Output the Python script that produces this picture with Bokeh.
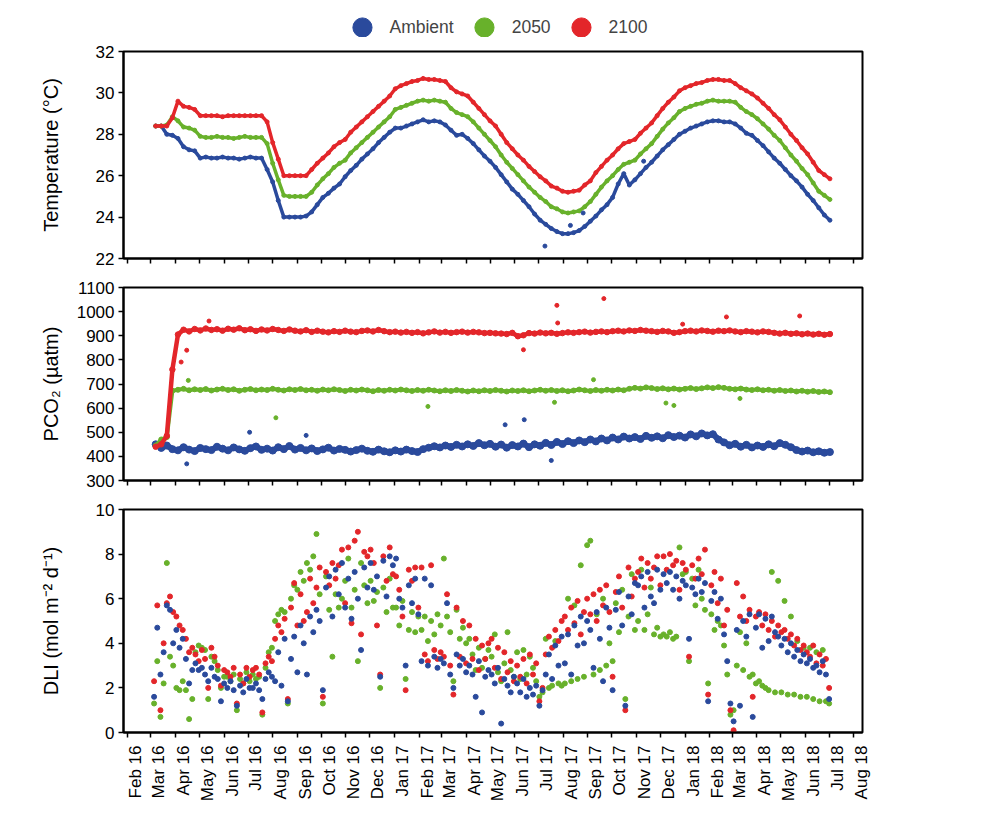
import math
import pandas as pd
from bokeh.plotting import figure
from bokeh.layouts import column
from bokeh.models import (Range1d, FixedTicker, DatetimeAxis, DatetimeTickFormatter,
                          CustomJSTickFormatter, Legend, LegendItem)
from bokeh.embed import file_html
from bokeh.resources import INLINE

BLUE = "#2a4a9c"
GREEN = "#68b12b"
RED = "#e3262a"
FONT = "Liberation Sans"

treatments = ["Ambient", "2050", "2100"]

# temperature, one reading a week from 7 Mar 2016
temp_start = "2016-03-07"
temp_ambient = [
    28.4, 28.4, 28.0, 27.95, 27.8, 27.4, 27.25, 27.2, 26.85, 26.9,
    26.85, 26.85, 26.9, 26.85, 26.85, 26.8, 26.85, 26.9, 26.85, 26.85,
    26.3, 25.7, 24.8, 24.0, 24.0, 24.0, 24.0, 24.05, 24.25, 24.6,
    24.95, 25.15, 25.4, 25.6, 25.95, 26.25, 26.5, 26.8, 27.05, 27.3,
    27.6, 27.85, 28.1, 28.3, 28.3, 28.4, 28.5, 28.6, 28.7, 28.6,
    28.65, 28.6, 28.45, 28.2, 27.95, 28.0, 27.8, 27.55, 27.25, 26.95,
    26.7, 26.4, 26.05, 25.7, 25.35, 25.1, 24.8, 24.5, 24.15, 23.85,
    23.65, 23.45, 23.3, 23.2, 23.2, 23.25, 23.35, 23.55, 23.8, 24.05,
    24.35, 24.6, 24.95, 25.6, 26.1, 25.55, 25.8, 26.1, 26.4, 26.65,
    26.95, 27.25, 27.5, 27.75, 28.0, 28.15, 28.3, 28.4, 28.5, 28.6,
    28.65, 28.65, 28.6, 28.6, 28.5, 28.3, 28.05, 27.95, 27.7, 27.45,
    27.15, 26.85, 26.6, 26.3, 26.0, 25.75, 25.45, 25.1, 24.8, 24.45,
    24.1, 23.85,
]
temp_2050 = [
    28.4, 28.4, 28.45, 28.85, 28.65, 28.35, 28.3, 28.2, 27.9, 27.85,
    27.85, 27.9, 27.85, 27.85, 27.8, 27.85, 27.9, 27.85, 27.85, 27.85,
    27.55, 26.6, 25.8, 25.05, 25.0, 25.0, 25.0, 25.0, 25.2, 25.55,
    25.85, 26.1, 26.4, 26.6, 26.75, 27.1, 27.35, 27.6, 27.85, 28.1,
    28.35, 28.6, 28.85, 29.2, 29.3, 29.4, 29.5, 29.6, 29.65, 29.6,
    29.65, 29.6, 29.55, 29.25, 29.05, 28.95, 28.85, 28.6, 28.3, 28.0,
    27.7, 27.4, 27.0, 26.65, 26.35, 26.05, 25.75, 25.45, 25.2, 24.95,
    24.75, 24.5, 24.4, 24.25, 24.2, 24.25, 24.3, 24.5, 24.75, 25.1,
    25.45, 25.75, 26.0, 26.3, 26.55, 26.65, 26.75, 27.05, 27.3, 27.55,
    27.9, 28.25, 28.55, 28.8, 29.1, 29.25, 29.35, 29.45, 29.5, 29.6,
    29.65, 29.6, 29.6, 29.6, 29.55, 29.3, 29.1, 28.95, 28.75, 28.5,
    28.25, 27.95, 27.7, 27.35, 27.0, 26.7, 26.35, 26.05, 25.65, 25.25,
    25.05, 24.85,
]
temp_2100 = [
    28.4, 28.4, 28.4, 28.8, 29.6, 29.35, 29.3, 29.2, 28.9, 28.9,
    28.9, 28.9, 28.85, 28.9, 28.9, 28.9, 28.9, 28.9, 28.9, 28.9,
    28.6, 27.6, 26.8, 26.0, 26.0, 26.0, 26.0, 26.0, 26.3, 26.6,
    26.85, 27.1, 27.4, 27.6, 27.75, 28.1, 28.35, 28.6, 28.85, 29.1,
    29.35, 29.6, 29.85, 30.2, 30.35, 30.45, 30.55, 30.6, 30.7, 30.65,
    30.65, 30.6, 30.55, 30.25, 30.05, 29.95, 29.85, 29.55, 29.25, 28.95,
    28.65, 28.4, 28.0, 27.6, 27.3, 27.0, 26.75, 26.45, 26.2, 25.95,
    25.75, 25.5, 25.4, 25.25, 25.2, 25.25, 25.3, 25.55, 25.75, 26.15,
    26.45, 26.75, 27.0, 27.3, 27.55, 27.65, 27.75, 28.05, 28.3, 28.55,
    28.9, 29.25, 29.55, 29.8, 30.1, 30.25, 30.35, 30.45, 30.5, 30.6,
    30.65, 30.65, 30.6, 30.6, 30.45, 30.25, 30.1, 29.95, 29.75, 29.5,
    29.25, 28.95, 28.7, 28.35, 28.0, 27.7, 27.35, 27.05, 26.65, 26.25,
    26.05, 25.85,
]
temp_odd_dates = ["2017-07-09", "2017-08-10", "2017-08-26", "2017-11-10"]
temp_odd_ambient = [22.6, 23.6, 24.2, 26.7]

# pCO2, weekly from 7 Mar 2016
pco2_start = "2016-03-07"
pco2_ambient = [
    450, 435, 445, 430, 425, 438, 428, 422, 435, 430,
    426, 440, 432, 425, 437, 429, 423, 434, 441, 427,
    432, 424, 438, 430, 443, 428, 435, 425, 433, 422,
    429, 436, 424, 431, 427, 420, 426, 432, 423, 419,
    428, 421, 417, 425, 420, 428, 422, 418, 430, 436,
    442, 437, 445, 439, 448, 441, 450, 443, 455, 446,
    452, 440, 449, 436, 447, 441, 453, 438, 450, 444,
    456, 447, 460, 451, 463, 455, 466, 459, 470, 462,
    474, 466, 478, 470, 482, 474, 480, 472, 485, 477,
    483, 475, 488, 480, 486, 478, 491, 483, 495, 487,
    492, 470, 458, 446, 452, 440, 448, 437, 445, 439,
    450, 442, 455, 448, 438, 426, 420, 424, 417, 421,
    415, 418,
]
pco2_2050 = [
    445, 470, 480, 672, 676, 680, 674, 678, 675, 679,
    673, 677, 680, 675, 678, 672, 676, 679, 674, 677,
    675, 680, 676, 673, 678, 675, 679, 674, 676, 672,
    677, 674, 678, 675, 671, 676, 673, 677, 674, 670,
    675, 672, 676, 673, 677, 674, 671, 675, 672, 676,
    673, 670, 674, 671, 675, 672, 669, 673, 670, 674,
    671, 675, 672, 669, 673, 671, 674, 670, 673, 676,
    672, 675, 671, 674, 670, 673, 677, 674, 671, 675,
    672, 676, 673, 677, 674, 680, 684, 681, 686, 683,
    679, 682, 678, 681, 677, 680, 683, 679, 682, 686,
    683, 687, 684, 680, 678, 681, 677, 675, 678, 674,
    676, 672, 675, 671, 673, 669, 672, 668, 671, 667,
    669, 666,
]
pco2_2100 = [
    440, 450, 485, 760, 905, 925, 918, 928, 922, 930,
    924, 927, 921, 929, 925, 931, 923, 927, 920, 926,
    922, 928, 924, 920, 926, 921, 918, 923, 916, 921,
    917, 914, 919, 916, 921, 917, 915, 920, 922, 918,
    924, 919, 915, 917, 913, 916, 912, 915, 910, 914,
    918, 913, 916, 912, 915, 917, 913, 916, 914, 911,
    912, 910, 909, 907, 912, 898, 902, 911, 909, 913,
    910, 912, 908, 911, 914, 912, 915, 917, 913, 916,
    918, 915, 919, 921, 918, 922, 920, 924, 921, 919,
    916, 920, 918, 912, 915, 919, 921, 918, 922, 920,
    917, 921, 919, 922, 918, 915, 919, 917, 914, 918,
    916, 912, 909, 912, 908, 910, 906, 909, 905, 908,
    904, 907,
]
pco2_odd_dates_ambient = ["2016-04-15", "2016-07-03", "2016-09-12", "2017-05-20",
                          "2017-06-13", "2017-07-17"]
pco2_odd_ambient = [369, 500, 487, 531, 552, 383]
pco2_odd_dates_2050 = ["2016-04-17", "2016-08-05", "2017-02-12", "2017-07-21",
                       "2017-09-08", "2017-12-08", "2017-12-18", "2018-03-11"]
pco2_odd_2050 = [715, 560, 607, 624, 718, 621, 611, 640]
pco2_odd_dates_2100 = ["2016-04-08", "2016-04-15", "2016-05-13", "2017-06-12",
                       "2017-07-24", "2017-07-25", "2017-09-21", "2017-12-29",
                       "2018-02-22", "2018-05-25"]
pco2_odd_2100 = [791, 840, 961, 842, 1026, 953, 1054, 948, 978, 982]

# daily light integral, every 4 days from 5 Mar 2016
dli_start = "2016-03-05"
dli_ambient = [
    1.6, 4.7, 2.6, 3.6, 5.7, 5.5, 4.0,
    4.6, 3.8, 4.2, 3.3, 2.2, 2.8, 3.1, 2.8,
    2.9, 2.6, 2.3, 2.9, 2.5, 2.4, 1.4, 2.2,
    2.0, 2.3, 1.9, 1.2, 2.1, 1.8, 2.4, 2.0,
    2.0, 2.2, 1.9, 1.5, 2.4, 2.7, 2.5,
    2.3, 3.6, 2.1, 4.2, 1.4, 3.3, 4.3, 2.7,
    4.8, 4.0, 2.6, 5.2, 4.5, 5.5, 5.0,
    1.9, 6.5, 7.0, 5.2, 7.3, 6.2, 7.6, 5.6,
    6.9, 5.1, 7.2, 6.0, 3.7, 7.4, 6.5,
    7.6, 6.4, 7.0, 2.5, 7.7, 6.1, 7.9, 7.5,
    7.8, 6.0, 5.6, 3.0, 6.6, 5.8, 6.9, 5.3,
    3.2, 6.9, 3.0, 6.6, 3.4, 2.9, 3.3,
    3.1, 5.8, 2.6, 2.0, 3.5, 3.0, 3.3, 2.7,
    3.0, 2.6, 1.6, 3.2, 0.9, 2.5, 2.8,
    2.6, 2.2, 2.9, 0.4, 2.4, 2.1, 1.8, 2.5,
    2.2, 1.8, 2.4, 1.6, 2.0, 1.7, 2.1,
    1.2, 1.9, 2.6, 3.5, 2.4, 3.9, 3.0, 4.3,
    3.1, 4.4, 2.6, 4.8, 3.9, 5.2, 4.0, 5.0,
    4.6, 2.9, 5.4, 4.2, 2.3, 5.6, 4.7,
    1.9, 5.5, 6.3, 4.8, 1.2, 6.1, 5.3, 6.7,
    6.6, 7.0, 5.6, 7.2, 6.1, 5.8, 7.3, 6.4,
    7.1, 6.7, 7.2, 6.4, 7.0, 6.0, 6.8,
    6.6, 4.2, 6.5, 6.2, 6.9, 6.3, 6.7, 1.4,
    5.9, 6.3, 5.1, 6.0, 4.4, 3.2, 1.3,
    0.5, 4.6, 1.2, 5.0, 4.3, 5.3, 0.7, 4.7,
    5.3, 3.8, 5.1, 4.1, 5.2, 4.5, 4.3, 3.9,
    4.2, 3.6, 4.0, 3.4, 3.7, 3.2, 3.5,
    3.1, 3.3, 2.9, 3.0, 2.7, 3.2, 2.6, 1.5,
]
dli_2050 = [
    1.3, 3.2, 0.7, 2.2, 7.6, 3.4, 3.0,
    2.0, 1.9, 2.3, 1.9, 0.6, 1.5, 3.6, 3.9,
    3.8, 3.7, 1.5, 3.4, 3.2, 2.8, 2.0, 2.5,
    2.5, 2.3, 2.6, 1.0, 2.4, 2.2, 2.7, 2.3,
    2.6, 2.4, 2.5, 0.8, 2.9, 3.6, 3.8,
    5.0, 5.3, 5.5, 5.4, 1.3, 6.0, 6.6, 6.4,
    7.2, 6.8, 7.6, 7.3, 7.9, 8.9, 6.2,
    1.3, 7.0, 5.5, 3.4, 6.2, 5.6, 6.0, 6.8,
    7.8, 5.6, 6.4, 3.2, 7.6, 6.6, 5.8,
    6.8, 5.9, 6.3, 2.0, 6.5, 5.4, 6.9, 5.6,
    5.6, 4.8, 5.9, 2.4, 4.6, 5.4, 4.5, 5.2,
    4.6, 5.2, 4.1, 5.0, 4.4, 5.3, 4.8,
    7.8, 5.2, 4.5, 2.3, 5.5, 4.2, 4.7, 4.0,
    4.2, 3.5, 2.8, 3.8, 2.9, 3.3, 3.7,
    3.4, 4.4, 2.7, 2.3, 3.1, 4.5, 2.8, 2.5,
    3.6, 2.4, 3.7, 2.6, 3.4, 2.9, 2.3,
    1.6, 1.8, 4.2, 2.0, 2.1, 4.1, 2.2, 2.1,
    2.2, 6.0, 2.3, 5.7, 2.4, 7.5, 2.5, 8.4,
    8.6, 2.6, 5.3, 2.8, 6.0, 3.0, 4.0,
    3.2, 5.8, 4.5, 6.4, 1.5, 5.2, 7.1, 4.6,
    5.0, 7.3, 4.6, 5.3, 6.5, 4.4, 4.7, 4.3,
    4.4, 4.3, 4.5, 4.2, 4.3, 8.3, 7.1,
    7.2, 3.2, 6.9, 5.7, 7.3, 6.0, 5.5, 2.2,
    5.3, 4.6, 5.0, 4.8, 3.9, 2.6, 0.8,
    1.0, 3.0, 4.5, 2.8, 4.0, 2.5, 2.6, 2.2,
    2.3, 2.1, 2.0, 1.9, 7.2, 1.8, 6.8, 1.8,
    5.9, 1.7, 5.2, 1.7, 4.1, 1.6, 3.8,
    1.6, 3.8, 1.5, 3.6, 1.4, 3.7, 1.4, 1.3,
]
dli_2100 = [
    2.3, 5.7, 1.0, 4.0, 5.8, 6.1, 5.4,
    5.2, 4.8, 4.6, 4.2, 3.6, 3.8, 3.5, 3.2,
    3.7, 3.3, 2.0, 3.8, 3.4, 3.0, 2.1, 2.8,
    2.7, 2.5, 2.9, 1.3, 2.6, 2.2, 2.9, 2.5,
    2.8, 2.9, 2.6, 0.9, 3.1, 3.4, 3.2,
    4.2, 4.8, 4.5, 5.1, 1.5, 5.6, 6.7, 4.8,
    6.2, 5.0, 5.4, 6.9, 5.8, 6.5, 7.4,
    1.6, 7.2, 6.6, 7.6, 6.9, 7.5, 8.2, 5.8,
    8.3, 4.9, 8.6, 9.0, 4.4, 8.1, 7.9,
    8.2, 7.6, 4.8, 2.6, 7.9, 6.8, 8.3, 7.1,
    7.0, 6.4, 5.2, 1.9, 7.3, 6.8, 7.4, 5.6,
    7.4, 3.5, 3.2, 7.5, 3.7, 3.3, 3.6,
    3.4, 6.2, 3.0, 1.7, 5.6, 3.4, 5.0, 3.1,
    4.8, 3.3, 4.2, 2.8, 3.9, 3.3, 4.0,
    4.2, 2.9, 3.8, 2.4, 3.6, 2.7, 3.2, 2.3,
    3.0, 2.5, 3.3, 2.2, 3.5, 2.6, 3.1,
    1.4, 2.0, 3.5, 4.3, 3.8, 4.6, 4.1, 5.0,
    5.2, 4.6, 5.6, 4.9, 5.9, 4.4, 5.4, 6.0,
    5.3, 6.2, 5.0, 6.4, 5.7, 6.6, 5.4,
    2.5, 6.3, 7.0, 5.6, 1.0, 7.4, 6.1, 6.9,
    7.2, 7.8, 6.5, 7.6, 6.9, 7.4, 7.9, 6.6,
    7.9, 7.3, 8.0, 7.5, 7.7, 6.4, 7.6,
    7.3, 3.4, 7.5, 6.9, 7.8, 7.1, 8.2, 1.7,
    6.6, 7.2, 5.8, 6.9, 4.8, 5.5, 1.0,
    0.1, 6.7, 5.2, 6.1, 5.0, 5.5, 1.6, 5.2,
    5.4, 4.8, 5.3, 4.6, 5.0, 4.3, 4.8, 4.5,
    4.6, 4.2, 4.4, 3.9, 4.2, 3.7, 3.9,
    3.6, 3.4, 3.9, 3.1, 3.5, 3.0, 3.3, 2.0,
]

temp_dates = pd.date_range(temp_start, periods=len(temp_2100), freq="7D")
pco2_dates = pd.date_range(pco2_start, periods=len(pco2_2100), freq="7D")
dli_dates = pd.date_range(dli_start, periods=len(dli_2100), freq="4D")

month_starts = pd.date_range("2016-02-01", "2018-08-01", freq="MS")
tick_ms = [t.timestamp() * 1000 for t in month_starts]
label_ms = [(t + pd.Timedelta(days=10)).timestamp() * 1000 for t in month_starts]

x_start = pd.Timestamp("2016-01-26 14:00")
x_end = pd.Timestamp("2018-08-11 22:00")

LEFT = 123
RIGHT = 20
FRAME_W = 739


def make_panel(y0, y1, yticks, title, frame_h, top, bottom, title_standoff):
    p = figure(x_axis_type="datetime", x_range=Range1d(x_start, x_end),
               y_range=Range1d(y0, y1), frame_width=FRAME_W, frame_height=frame_h,
               min_border_left=LEFT, min_border_right=RIGHT, min_border_top=top,
               min_border_bottom=bottom, toolbar_location=None, output_backend="svg")
    p.grid.visible = False
    p.outline_line_color = "black"
    p.outline_line_width = 2
    p.outline_line_alpha = 1
    for ax in (p.xaxis[0], p.yaxis[0]):
        ax.axis_line_width = 2
        ax.axis_line_color = "black"
        ax.major_tick_out = 5
        ax.major_tick_in = 0
        ax.minor_tick_out = 0
        ax.minor_tick_in = 0
        ax.major_tick_line_width = 1.5
        ax.major_label_text_font = FONT
        ax.major_label_text_font_size = "17px"
        ax.major_label_text_color = "black"
    p.xaxis.ticker = FixedTicker(ticks=tick_ms)
    p.xaxis.formatter = CustomJSTickFormatter(code="return ''")
    p.xaxis.major_label_text_font_size = "1px"
    p.xaxis.major_label_standoff = 0
    p.yaxis.ticker = FixedTicker(ticks=yticks)
    p.yaxis.major_label_standoff = 4
    p.yaxis.axis_label = title
    p.yaxis.axis_label_text_font = FONT
    p.yaxis.axis_label_text_font_size = "20px"
    p.yaxis.axis_label_text_font_style = "normal"
    p.yaxis.axis_label_text_color = "black"
    p.yaxis.axis_label_standoff = title_standoff
    return p


# legend strip on top (proxy glyphs sit below the visible range)
leg = figure(frame_width=FRAME_W, frame_height=20, min_border_left=LEFT,
             min_border_right=RIGHT, min_border_top=17, min_border_bottom=0,
             x_range=Range1d(0, 1), y_range=Range1d(0, 1), x_axis_location=None,
             y_axis_location=None, toolbar_location=None, output_backend="svg")
leg.xgrid.visible = False
leg.ygrid.visible = False
leg.outline_line_color = None
items = []
for name, col in zip(treatments, (BLUE, GREEN, RED)):
    r = leg.scatter(x=[0.5], y=[-50], marker="circle", size=19, color=col)
    items.append(LegendItem(label=name, renderers=[r]))
legend = Legend(items=items, orientation="horizontal", location="center",
                glyph_width=48, glyph_height=48, label_standoff=4, spacing=6,
                padding=0, margin=0, border_line_color=None, background_fill_alpha=0,
                label_text_font=FONT, label_text_font_size="17.5px")
leg.add_layout(legend)

# temperature
p1 = make_panel(22, 32, [22, 24, 26, 28, 30, 32], "Temperature (°C)", 207, 14, 15, 31)
for vals, col in ((temp_ambient, BLUE), (temp_2050, GREEN), (temp_2100, RED)):
    p1.line(temp_dates, vals, line_width=3.5, color=col)
    p1.scatter(temp_dates, vals, size=4, color=col)
p1.scatter(pd.to_datetime(temp_odd_dates), temp_odd_ambient, size=4, color=BLUE)

# pCO2
p2 = make_panel(300, 1100, list(range(300, 1101, 100)), "PCO₂ (µatm)", 193, 14, 14, 12)
for vals, col, width, odd_d, odd_v in (
        (pco2_ambient, BLUE, 6, pco2_odd_dates_ambient, pco2_odd_ambient),
        (pco2_2050, GREEN, 4, pco2_odd_dates_2050, pco2_odd_2050),
        (pco2_2100, RED, 4.5, pco2_odd_dates_2100, pco2_odd_2100)):
    p2.line(pco2_dates, vals, line_width=width, color=col)
    p2.scatter(pco2_dates, vals, size=width + 1, color=col)
    p2.scatter(pd.to_datetime(odd_d), odd_v, size=4, color=col)

# DLI
p3 = make_panel(0, 10, [0, 2, 4, 6, 8, 10], "DLI (mol m⁻² d⁻¹)", 223, 15, 0, 31)
for vals, col in ((dli_2050, GREEN), (dli_2100, RED), (dli_ambient, BLUE)):
    p3.scatter(dli_dates, vals, size=5, color=col)

month_axis = DatetimeAxis(ticker=FixedTicker(ticks=label_ms),
                          formatter=DatetimeTickFormatter(days="%b %y", months="%b %y",
                                                          years="%b %y"),
                          major_label_orientation=math.pi / 2, major_tick_out=0,
                          major_tick_in=0, minor_tick_out=0, minor_tick_in=0,
                          axis_line_color=None, major_label_standoff=8,
                          major_label_text_font=FONT, major_label_text_font_size="17px",
                          major_label_text_color="black")
p3.add_layout(month_axis, "below")

layout = column(leg, p1, p2, p3)
open("out.html", "w").write(file_html(layout, INLINE))
